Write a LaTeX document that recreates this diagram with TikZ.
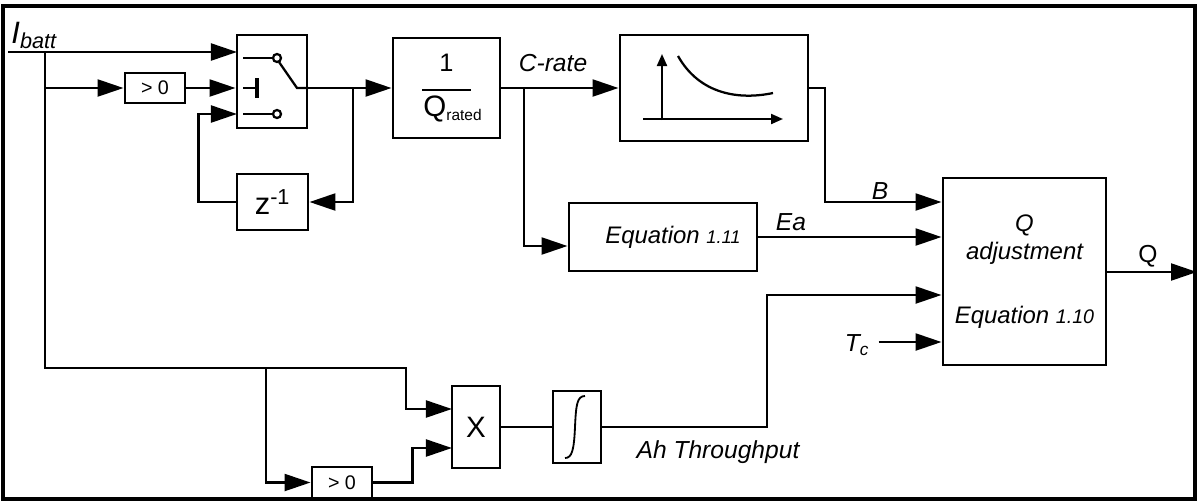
\documentclass[tikz,border=0pt]{standalone}
\usepackage{fontspec}
\setmainfont{Liberation Sans}
\usetikzlibrary{arrows.meta,calc}

\begin{document}
\begin{tikzpicture}[
  x=0.025cm, y=-0.025cm,
  font=\fontsize{17}{20}\selectfont,
  line width=2pt,
  blk/.style={draw, line width=2pt, inner sep=0pt, align=center},
  flow/.style={-{Triangle[length=0.65cm,width=0.42cm]}},
  tiny/.style={-{Triangle[length=0.3cm,width=0.25cm]}, line width=1.5pt},
  lbl/.style={font=\fontsize{17.5}{20}\selectfont\itshape, inner sep=0pt}
]
\useasboundingbox (0,0) rectangle (1197,502);
\draw[line width=2.5pt] (3,6) rectangle (1195,499);

% blocks
\node[blk, minimum width=1.5cm, minimum height=0.75cm, font=\fontsize{14}{15}\selectfont] (gtA) at (155,88) {> 0};
\node[blk, minimum width=1.75cm, minimum height=2.325cm] (sw) at (272,81.5) {};
\node[blk, minimum width=1.775cm, minimum height=1.4cm, font=\fontsize{22}{24}\selectfont] (zinv) at (272.5,202) {z\textsuperscript{-1}};
\node[blk, minimum width=2.675cm, minimum height=2.5cm] (qrated) at (446.5,88)
  {{\fontsize{18}{20}\selectfont 1}\\[-6pt]\rule{1.2cm}{1.8pt}\\[-2pt]\hspace*{0.3cm}{\fontsize{21}{24}\selectfont Q}\raisebox{-3pt}{\fontsize{11}{12}\selectfont rated}};
\node[blk, minimum width=4.7cm, minimum height=2.65cm] (curve) at (714,88) {};
\node[blk, minimum width=4.7cm, minimum height=1.7cm] (eqA) at (663,237)
  {\hspace*{0.5cm}\itshape Equation {\fontsize{13}{14}\selectfont 1.11}};
\node[blk, minimum width=4.075cm, minimum height=4.675cm] (qadj) at (1024.5,271.5)
  {\itshape Q\\\itshape adjustment\\[0.9cm]\itshape Equation {\fontsize{14}{14}\selectfont 1.10}};
\node[blk, minimum width=1.2cm, minimum height=2.05cm, font=\fontsize{21}{24}\selectfont] (mult) at (476,427) {X};
\node[blk, minimum width=1.2cm, minimum height=1.8cm] (integ) at (577,427) {};
\node[blk, minimum width=1.5cm, minimum height=0.775cm, font=\fontsize{14}{15}\selectfont] (gtB) at (342,482.5) {> 0};

% labels
\node[font=\fontsize{22}{24}\selectfont\itshape, anchor=base west, inner sep=0pt] (ibatt) at (10,43) {I\textsubscript{batt}};
\node[lbl] (crate) at (553,63) {C-rate};
\node[lbl] (lblB) at (880,191) {B};
\node[lbl] (lblEa) at (791,222) {Ea};
\node[lbl, font=\fontsize{17.5}{20}\selectfont] (lblQ) at (1148,256) {Q};
\node[lbl] (tc) at (857,345) {T\textsubscript{c}};
\node[lbl] (ah) at (718,452) {Ah Throughput};

% points
\coordinate (src) at (8,52);
\coordinate (jA) at (45,52);
\coordinate (jB) at (266,368);
\coordinate (jC) at (406,368);
\coordinate (fb) at (353,88);
\coordinate (swA) at (237,52);
\coordinate (swC) at (237,114);
\coordinate (cj) at (524,88);
\coordinate (bturn) at (825,202);
\coordinate (ahturn) at (767,295);
\coordinate (mA) at (452,409);
\coordinate (mB) at (452,448);
\coordinate (qout) at (1197,272);

% switch symbol
\begin{scope}[line width=1.6pt]
\draw (243,58) -- (273,58);
\draw (277,58) circle[radius=0.1cm];
\draw (243,114) -- (273,114);
\draw (277,114) circle[radius=0.1cm];
\draw (243,88) -- (257,88);
\draw[line width=2.2pt] (257,78) -- (257,98);
\draw (279,62) -- (297,88) -- (sw.east |- qrated.west);
\end{scope}

% curve symbol
\draw[tiny] (662,120) -- (662,54);
\draw[tiny] (643,119) -- (783,119);
\draw[line width=1.6pt] (678,56) .. controls (700,95) and (740,100) .. (773,93);

% integral symbol
\draw[line width=1.3pt] (585,396) .. controls (577,396) and (576,405) .. (575,427)
  .. controls (574,450) and (572,458) .. (565,458);

% connectors
\draw[flow] (src) -- (swA);
\draw[flow] (jA) |- (gtA.west);
\draw[flow] (gtA.east) -- (gtA.east -| sw.west);
\draw[flow] (sw.east |- qrated.west) -- (qrated.west);
\draw[flow] (fb) |- (zinv.east);
\draw[flow] (zinv.west) -- ++(-37,0) |- (swC);
\draw[flow] (qrated.east) -- (curve.west);
\draw[flow] (cj) |- ($(eqA.west)+(0,9)$);
\draw[flow] (curve.east) -| (bturn) -- (bturn -| qadj.west);
\draw[flow] (eqA.east) -- (eqA.east -| qadj.west);
\draw[flow] (integ.east) -| (ahturn) -- (ahturn -| qadj.west);
\draw[flow] ($(tc.east)+(8,-3)$) -- ($(tc.east -| qadj.west)+(0,-3)$);
\draw[flow] (qadj.east |- qout) -- (qout);
\draw[flow] (jA) |- (jC) |- (mA);
\draw[flow] (jB) |- (gtB.west);
\draw[flow] (gtB.east) -- ++(39,0) |- (mB);
\draw (mult.east) -- (integ.west);
\end{tikzpicture}
\end{document}
